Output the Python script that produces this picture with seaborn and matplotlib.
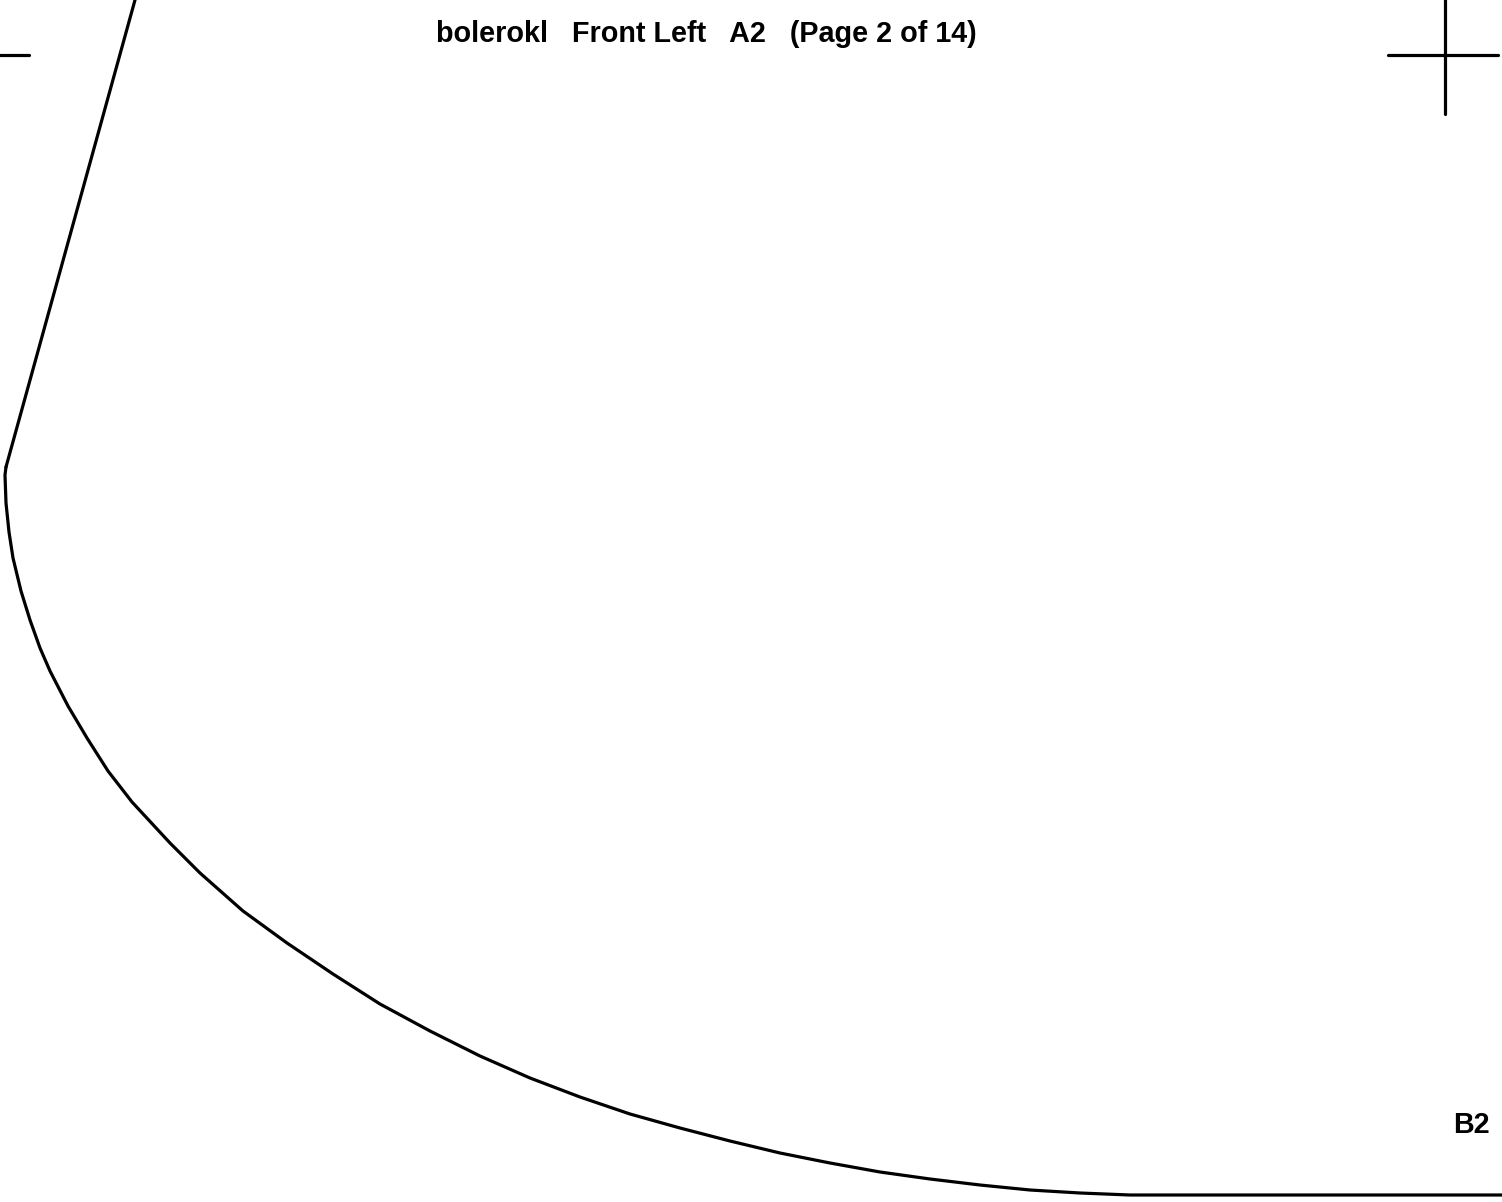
import matplotlib
matplotlib.use("Agg")
import matplotlib.pyplot as plt
import seaborn as sns
import pandas as pd

sns.set_theme(style="white")
plt.rcParams['font.family'] = ['Liberation Sans', 'DejaVu Sans']

W, H = 1502, 1202

# pattern outline (pixel units, y down)
straight_x = [135, 6]
straight_y = [0, 467]
curve_x = [6, 5, 6, 9, 13, 21, 30, 40, 50, 68, 87, 108, 132, 170, 200, 243, 287, 333, 380, 430, 480, 530, 580, 630, 680, 730, 780, 830, 880, 930, 980, 1030, 1080, 1130, 1170, 1502]
curve_y = [467, 475, 503, 532, 558, 591, 620, 648, 671, 706, 738, 771, 802, 843, 873, 911, 943, 974, 1004, 1031, 1056, 1078, 1097, 1114, 1128, 1141, 1153, 1163, 1172, 1179, 1185, 1190, 1193, 1195, 1195, 1195]

hline_x = [[0, 29], [1388, 1498]]
hline_y = [[55, 55], [55, 55]]
vline_x = [[1445, 1445]]
vline_y = [[0, 114]]

title_text = "bolerokl   Front Left   A2   (Page 2 of 14)"
corner_text = "B2"

fig = plt.figure(figsize=(W / 100, H / 100), dpi=100, facecolor="white")
ax = fig.add_axes([0, 0, 1, 1])

segments = [(straight_x, straight_y), (curve_x, curve_y)] + list(zip(hline_x + vline_x, hline_y + vline_y))
for xs, ys in segments:
    seg = pd.DataFrame({"x": xs, "y": ys})
    sns.lineplot(data=seg, x="x", y="y", sort=False, estimator=None, color="black",
                 lw=2.3, solid_capstyle="round", solid_joinstyle="round", ax=ax)

ax.set_xlim(0, W)
ax.set_ylim(H, 0)
ax.axis("off")
ax.text(706.5, 34, title_text, ha="center", va="center", fontsize=20.7, fontweight="bold", color="black")
ax.text(1471.5, 1125, corner_text, ha="center", va="center", fontsize=20.7, fontweight="bold", color="black")

fig.savefig("out.png", dpi=100, facecolor="white")
